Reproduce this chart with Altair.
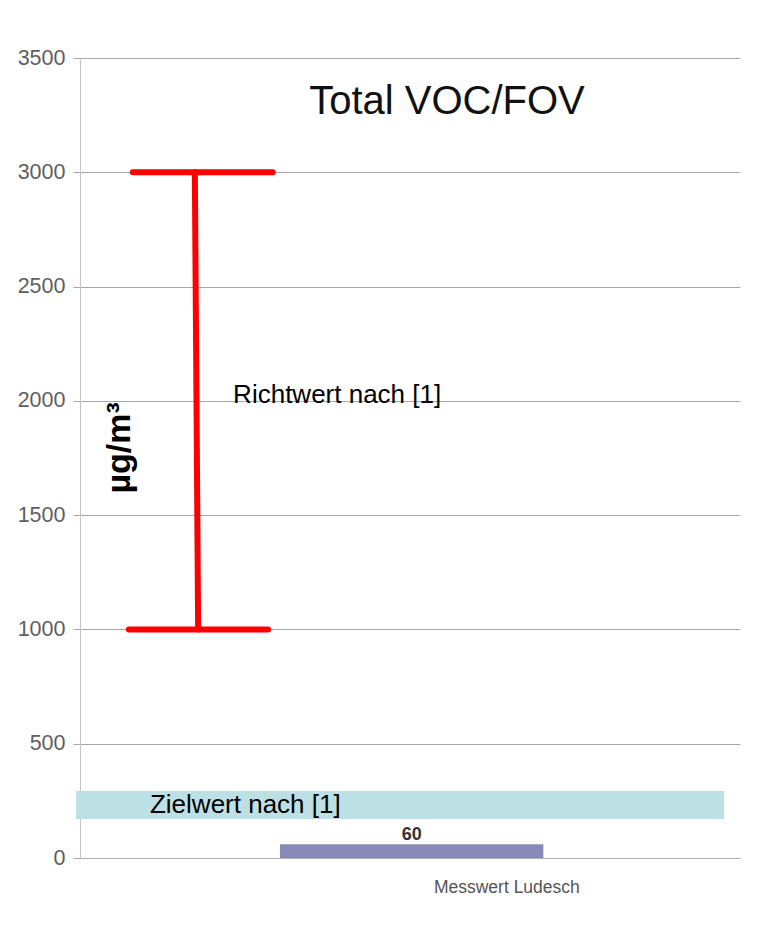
import altair as alt
import pandas as pd

FONT = "Liberation Sans"

# --- data ---
y_ticks = [0, 500, 1000, 1500, 2000, 2500, 3000, 3500]
category = ["Messwert Ludesch"]
measured = [60]
bar_x = [30.3]
bar_x2 = [70.2]
cat_label_x = [64.6]

band_label = ["Zielwert nach [1]"]
band_lo = [171]
band_hi = [293]
band_x = [-0.6]
band_x2 = [97.6]

range_label = ["Richtwert nach [1]"]
range_lo = [1000]
range_hi = [3000]

title_text = ["Total VOC/FOV"]
unit_text = ["µg/m³"]

xs = alt.Scale(domain=[0, 100], nice=False, zero=False)
ys = alt.Scale(domain=[0, 3500], nice=False)

bar_df = pd.DataFrame({"cat": category, "v": measured, "x": bar_x, "x2": bar_x2})
band_df = pd.DataFrame({"lab": band_label, "lo": band_lo, "hi": band_hi, "x": band_x, "x2": band_x2})
vert_df = pd.DataFrame({"x": [17.9], "x2": [17.4], "y": range_lo, "y2": range_hi})
caps_df = pd.DataFrame({"x": [8.0, 7.4], "x2": [29.2, 28.5], "y": [range_hi[0], range_lo[0]]})

base_x_axis = alt.Axis(
    values=cat_label_x, labelExpr="'" + category[0] + "'", grid=False, tickSize=0,
    domainColor="#b0b0b0", labelFont=FONT, labelFontSize=17.5, labelColor="#555555",
    labelPadding=20, title=None,
)
y_axis = alt.Axis(
    values=y_ticks, format="d", grid=True, gridColor="#a8a8a8", tickColor="#a8a8a8", tickSize=7,
    domainColor="#c4c4c4", labelFont=FONT, labelFontSize=21.5, labelColor="#5e5e5e",
    labelPadding=8, title=None,
)

band = alt.Chart(band_df).mark_rect(color="#bce0e3").encode(
    x=alt.X("x:Q", scale=xs, axis=base_x_axis),
    x2="x2:Q",
    y=alt.Y("lo:Q", scale=ys, axis=y_axis),
    y2="hi:Q",
)

bar = alt.Chart(bar_df).mark_rect(color="#8a8ab8").encode(
    x=alt.X("x:Q", scale=xs), x2="x2:Q",
    y=alt.Y("v:Q", scale=ys), y2=alt.datum(0),
)

bar_text = alt.Chart(bar_df).mark_text(
    font=FONT, fontSize=18, fontWeight="bold", color="#333333", baseline="alphabetic", dy=-4
).encode(
    x=alt.X("mid:Q", scale=xs), y=alt.Y("v:Q", scale=ys), text="v:Q"
).transform_calculate(mid="(datum.x + datum.x2) / 2")

vert = alt.Chart(vert_df).mark_rule(color="#ff0000", strokeWidth=6, strokeCap="round").encode(
    x=alt.X("x:Q", scale=xs), x2="x2:Q", y=alt.Y("y:Q", scale=ys), y2="y2:Q"
)
caps = alt.Chart(caps_df).mark_rule(color="#ff0000", strokeWidth=6, strokeCap="round").encode(
    x=alt.X("x:Q", scale=xs), x2="x2:Q", y=alt.Y("y:Q", scale=ys)
)

texts_df = pd.DataFrame({
    "t": [title_text[0], range_label[0], band_label[0]],
    "x": [55.6, 23.2, 10.6],
    "y": [3255, 1990, 197],
})

title_mark = alt.Chart(texts_df.iloc[[0]]).mark_text(
    font=FONT, fontSize=40, color="#111111", align="center", baseline="alphabetic"
).encode(x=alt.X("x:Q", scale=xs), y=alt.Y("y:Q", scale=ys), text="t:N")

labels_mark = alt.Chart(texts_df.iloc[1:]).mark_text(
    font=FONT, fontSize=26, color="#000000", align="left", baseline="alphabetic"
).encode(x=alt.X("x:Q", scale=xs), y=alt.Y("y:Q", scale=ys), text="t:N")

unit_df = pd.DataFrame({"t": unit_text, "x": [6.06], "y": [1794]})
unit_mark = alt.Chart(unit_df).mark_text(
    font=FONT, fontSize=34, fontWeight="bold", color="#000000", angle=270,
    align="center", baseline="middle"
).encode(x=alt.X("x:Q", scale=xs), y=alt.Y("y:Q", scale=ys), text="t:N")

chart = alt.layer(band, bar, bar_text, vert, caps, title_mark, labels_mark, unit_mark).properties(
    width=660, height=800,
    autosize=alt.AutoSizeParams(type="none"),
    padding={"left": 72, "top": 50, "right": 30, "bottom": 60},
    background="white",
).configure_view(stroke=None)

chart.save("out.html", embed_options={"renderer": "svg", "actions": False})
